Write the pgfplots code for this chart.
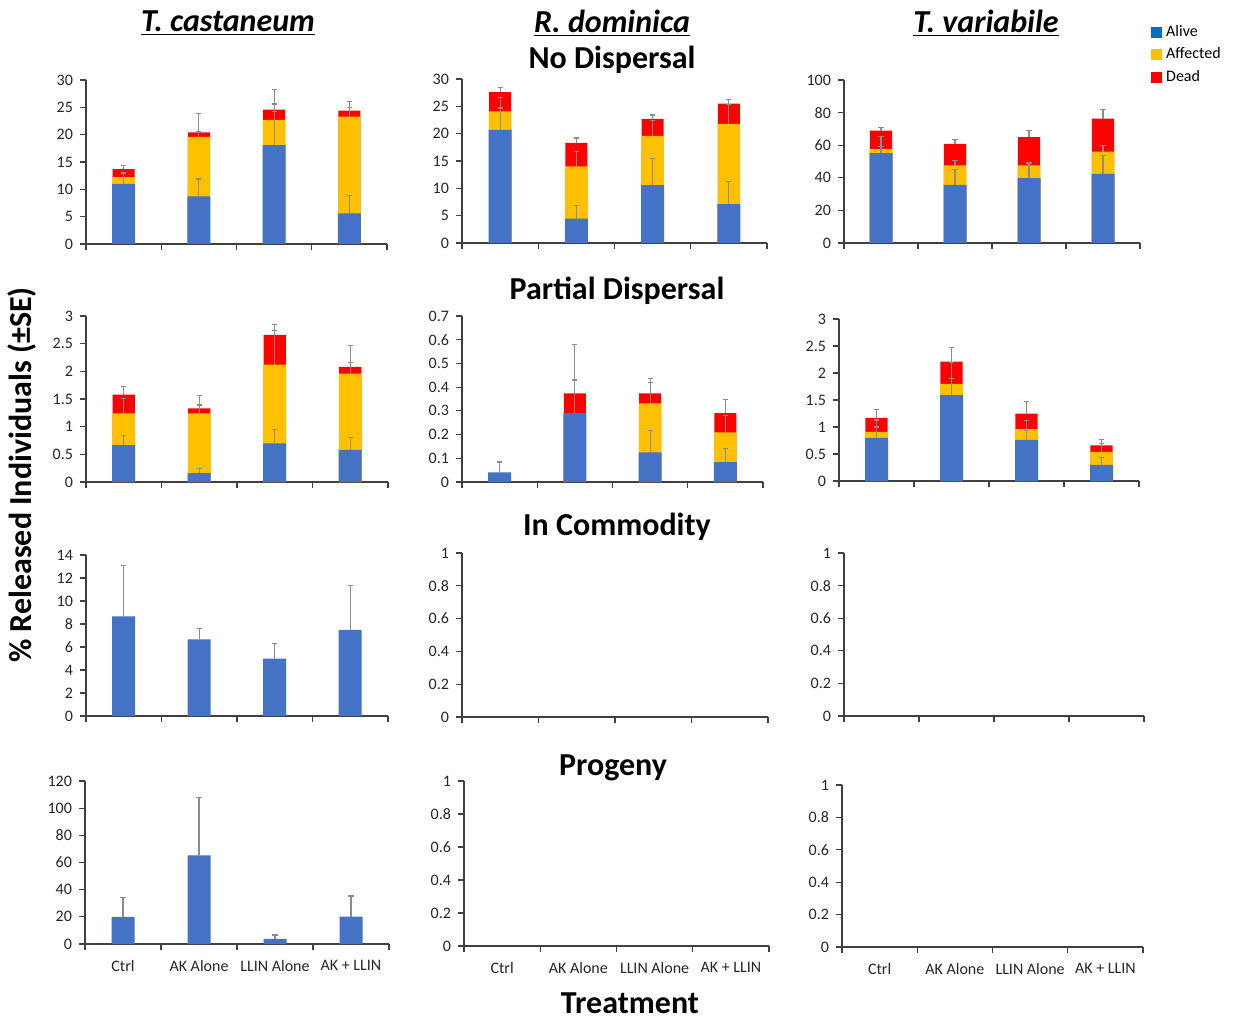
\documentclass[border=0pt]{standalone}
\usepackage{pgfplots}
\pgfplotsset{compat=1.18}
\usepackage{fontspec}
\setmainfont{Carlito}
\definecolor{cAlive}{HTML}{4472C4}
\definecolor{cAff}{HTML}{FFC000}
\definecolor{cDead}{HTML}{FF0000}
\definecolor{cLeg}{HTML}{0070C0}
\definecolor{cErr}{HTML}{8C8C8C}
\definecolor{cAx}{HTML}{404040}
\pgfplotsset{
  panel/.style={scale only axis, anchor=south west, axis x line=bottom, axis y line=left,
    axis line style={cAx, line width=0.7pt, -}, xmin=-0.5, xmax=3.5, ymin=0,
    xtick={-0.5,0.5,1.5,2.5,3.5}, xticklabels={}, tick align=outside,
    major tick length=3pt, tick style={cAx, line width=0.6pt},
    ticklabel style={font=\fontsize{8}{9.6}\selectfont, text=black!85},
    /pgf/number format/assume math mode=true,
    clip=false},
  bot/.style={extra x ticks={0,1,2,3}, extra x tick labels={Ctrl,AK Alone,LLIN Alone,AK + LLIN},
    extra x tick style={major tick length=0pt, xticklabel style={yshift=-4.5pt}}},
  bars/.style 2 args={ybar, bar width=#2, bar shift=0pt, draw=none, fill=#1, forget plot,
    error bars/.cd, y dir=plus, y explicit,
    error bar style={draw=cErr, line width=0.6pt},
    error mark options={draw=cErr, line width=0.6pt, mark size=1.3pt, rotate=90}},
  dead/.style={bars={cDead}{11.1pt}},
  aff/.style={bars={cAff}{11.3pt}},
  alive/.style={bars={cAlive}{11.5pt}},
}
\begin{document}
\begin{tikzpicture}
\useasboundingbox (0,0) rectangle (617pt,-510.5pt);
% ---------- titles ----------
\node[font=\fontsize{16}{19}\selectfont\bfseries\itshape] at (114pt,-11.5pt) {\underline{T. castaneum}};
\node[font=\fontsize{16}{19}\selectfont\bfseries\itshape] at (306pt,-11.5pt) {\underline{R. dominica}};
\node[font=\fontsize{16}{19}\selectfont\bfseries\itshape] at (493pt,-11.5pt) {\underline{T. variabile}};
\node[font=\fontsize{16}{19}\selectfont\bfseries] at (306pt,-30pt) {No Dispersal};
\node[font=\fontsize{16}{19}\selectfont\bfseries] at (308.5pt,-145.5pt) {Partial Dispersal};
\node[font=\fontsize{16}{19}\selectfont\bfseries] at (308.5pt,-263.5pt) {In Commodity};
\node[font=\fontsize{16}{19}\selectfont\bfseries] at (306.5pt,-384pt) {Progeny};
\node[font=\fontsize{16}{19}\selectfont\bfseries, rotate=90] at (11pt,-237.5pt) {\% Released Individuals (±SE)};
\node[font=\fontsize{16}{19}\selectfont\bfseries, anchor=base] at (315pt,-506.5pt) {Treatment};

% ---------- Row 1: No Dispersal ----------
\begin{axis}[panel, at={(43pt,-122pt)}, width=150.5pt, height=82pt, ymax=30, ytick={0,5,...,30}]
\addplot[dead] coordinates {(0,13.7) +- (0,0.6) (1,20.4) +- (0,3.4) (2,24.6) +- (0,3.7) (3,24.4) +- (0,1.7)};
\addplot[aff] coordinates {(0,12.25) +- (0,0.6) (1,19.6) +- (0,0.9) (2,22.7) +- (0,1.5) (3,23.3) +- (0,1.7)};
\addplot[alive] coordinates {(0,11.0) +- (0,2.0) (1,8.7) +- (0,3.2) (2,18.1) +- (0,7.5) (3,5.6) +- (0,3.2)};
\end{axis}
\begin{axis}[panel, at={(231pt,-121.5pt)}, width=152.5pt, height=82pt, ymax=30, ytick={0,5,...,30}]
\addplot[dead] coordinates {(0,27.6) +- (0,0.8) (1,18.3) +- (0,0.9) (2,22.7) +- (0,0.7) (3,25.5) +- (0,0.8)};
\addplot[aff] coordinates {(0,24.1) +- (0,2.5) (1,14.0) +- (0,2.8) (2,19.6) +- (0,2.8) (3,21.8) +- (0,3.5)};
\addplot[alive] coordinates {(0,20.7) +- (0,4.0) (1,4.45) +- (0,2.45) (2,10.6) +- (0,4.9) (3,7.1) +- (0,4.2)};
\end{axis}
\begin{axis}[panel, at={(422pt,-121.5pt)}, width=148pt, height=81.5pt, ymax=100, ytick={0,20,...,100},
  legend style={at={(1.037,1.36)}, anchor=north west, draw=none, fill=none, inner sep=0pt,
    font=\fontsize{8}{9.6}\selectfont, row sep=0pt, legend cell align=left}]
\addlegendimage{legend image code/.code={\fill[cLeg] (0pt,-2.5pt) rectangle (5pt,2.5pt);}}
\addlegendentry{Alive}
\addlegendimage{legend image code/.code={\fill[cAff] (0pt,-2.5pt) rectangle (5pt,2.5pt);}}
\addlegendentry{Affected}
\addlegendimage{legend image code/.code={\fill[cDead] (0pt,-2.5pt) rectangle (5pt,2.5pt);}}
\addlegendentry{Dead}
\addplot[dead] coordinates {(0,69.0) +- (0,2.0) (1,60.8) +- (0,2.5) (2,64.9) +- (0,4.1) (3,76.3) +- (0,5.7)};
\addplot[aff] coordinates {(0,57.6) +- (0,1.5) (1,47.6) +- (0,3.0) (2,47.6) +- (0,1.5) (3,56.1) +- (0,3.5)};
\addplot[alive] coordinates {(0,55.1) +- (0,10.2) (1,35.7) +- (0,9.6) (2,39.8) +- (0,9.6) (3,42.4) +- (0,11.3)};
\end{axis}

% ---------- Row 2: Partial Dispersal ----------
\begin{axis}[panel, at={(43pt,-241pt)}, width=151pt, height=83pt, ymax=3, ytick={0,0.5,1,1.5,2,2.5,3}]
\addplot[dead] coordinates {(0,1.58) +- (0,0.14) (1,1.33) +- (0,0.24) (2,2.66) +- (0,0.18) (3,2.08) +- (0,0.39)};
\addplot[aff] coordinates {(0,1.24) +- (0,0.27) (1,1.24) +- (0,0.15) (2,2.12) +- (0,0.62) (3,1.96) +- (0,0.20)};
\addplot[alive] coordinates {(0,0.666) +- (0,0.18) (1,0.16) +- (0,0.08) (2,0.70) +- (0,0.25) (3,0.58) +- (0,0.22)};
\end{axis}
\begin{axis}[panel, at={(231pt,-241pt)}, width=150.5pt, height=83pt, ymax=0.7, ytick={0,0.1,0.2,0.3,0.4,0.5,0.6,0.7}]
\addplot[dead] coordinates {(1,0.374) +- (0,0.206) (2,0.374) +- (0,0.064) (3,0.29) +- (0,0.059)};
\addplot[aff] coordinates {(2,0.332) +- (0,0.087) (3,0.209) +- (0,0.070)};
\addplot[alive] coordinates {(0,0.041) +- (0,0.043) (1,0.29) +- (0,0.14) (2,0.125) +- (0,0.091) (3,0.084) +- (0,0.056)};
\end{axis}
\begin{axis}[panel, at={(419.5pt,-240.5pt)}, width=150pt, height=81pt, ymax=3, ytick={0,0.5,1,1.5,2,2.5,3}]
\addplot[dead] coordinates {(0,1.17) +- (0,0.16) (1,2.21) +- (0,0.26) (2,1.25) +- (0,0.22) (3,0.66) +- (0,0.11)};
\addplot[aff] coordinates {(0,0.91) +- (0,0.22) (1,1.80) +- (0,0.40) (2,0.96) +- (0,0.16) (3,0.54) +- (0,0.16)};
\addplot[alive] coordinates {(0,0.80) +- (0,0.20) (1,1.59) +- (0,0.31) (2,0.76) +- (0,0.18) (3,0.30) +- (0,0.14)};
\end{axis}

% ---------- Row 3: In Commodity ----------
\begin{axis}[panel, at={(43pt,-358pt)}, width=151pt, height=80.5pt, ymax=14, ytick={0,2,...,14}]
\addplot[alive] coordinates {(0,8.66) +- (0,4.44) (1,6.66) +- (0,0.94) (2,5.0) +- (0,1.28) (3,7.5) +- (0,3.87)};
\end{axis}
\begin{axis}[panel, at={(231pt,-358.5pt)}, width=153pt, height=82pt, ymax=1, ytick={0,0.2,0.4,0.6,0.8,1}]
\end{axis}
\begin{axis}[panel, at={(422pt,-358pt)}, width=150pt, height=81.5pt, ymax=1, ytick={0,0.2,0.4,0.6,0.8,1}]
\end{axis}

% ---------- Row 4: Progeny ----------
\begin{axis}[panel, bot, at={(42.5pt,-472pt)}, width=152pt, height=81.5pt, ymax=120, ytick={0,20,...,120}]
\addplot[alive] coordinates {(0,19.9) +- (0,14.2) (1,65.2) +- (0,42.4) (2,3.7) +- (0,2.9) (3,20.1) +- (0,15.2)};
\end{axis}
\begin{axis}[panel, bot, at={(232pt,-473pt)}, width=152.5pt, height=82.5pt, ymax=1, ytick={0,0.2,0.4,0.6,0.8,1}]
\end{axis}
\begin{axis}[panel, bot, at={(421pt,-473.5pt)}, width=150.5pt, height=81pt, ymax=1, ytick={0,0.2,0.4,0.6,0.8,1}]
\end{axis}
\end{tikzpicture}
\end{document}
